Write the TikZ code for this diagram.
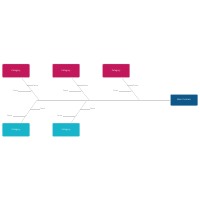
\documentclass[tikz,border=0pt]{standalone}
\usepackage{fontspec}
\setsansfont{Open Sans}
\usepackage{tikz}
\usetikzlibrary{positioning,calc}
\definecolor{crimson}{HTML}{C2185B}
\definecolor{lagoon}{HTML}{17B4CA}
\definecolor{deep}{HTML}{0D5789}
\definecolor{rib}{HTML}{D2D2D2}
\definecolor{note}{HTML}{8A8A8A}
\begin{document}
\begin{tikzpicture}[
    x=0.5mm, y=-0.5mm,
    node distance=11.4mm,
    cause/.style={fill=crimson, draw=crimson!55!white, line width=0.4pt, rounded corners=1pt, minimum width=13.5mm, minimum height=6.6mm, inner sep=0pt, text=white, font=\sffamily\fontsize{3}{3.5}\selectfont},
    causelow/.style={cause, fill=lagoon, draw=lagoon!55!white},
    effect/.style={cause, fill=deep, draw=deep!55!white, minimum height=5.5mm},
    bone/.style={draw=rib, line width=0.45pt},
    lbl/.style={font=\sffamily\fontsize{2.6}{3}\selectfont, text=note, inner sep=0.3pt},
    joint/.style={circle, fill=note!60, inner sep=0pt, minimum size=0.45mm}
]
\useasboundingbox (0,0) rectangle (200,200);

\node[cause] (cause1) at (16,70.7) {Category};
\node[cause, right=of cause1] (cause2) {Category};
\node[cause, right=of cause2] (cause3) {Category};
\node[causelow] (cause4) at (16,129.8) {Category};
\node[causelow, right=of cause4] (cause5) {Category};
\node[effect] (effect) at (184,100) {Main Problem};

% where the ribs meet the spine
\coordinate (s1) at ($(cause1)+(23,29.3)$);
\coordinate (s2) at ($(cause2)+(23,29.3)$);
\coordinate (s3) at ($(cause3)+(23,29.3)$);
\coordinate (s4) at ($(cause4)+(21,-29.8)$);
\coordinate (s5) at ($(cause5)+(21,-29.8)$);

\draw[bone] (s4) -- (effect);
\draw[bone] (cause1) -- (s1);
\draw[bone] (cause2) -- (s2);
\draw[bone] (cause3) -- (s3);
\draw[bone] (cause4) -- (s4);
\draw[bone] (cause5) -- (s5);

% upper ribs
\node[joint] (j1a) at ($(cause1)!0.505!(s1)$) {};
\node[lbl, right=2.2mm of j1a] (n1a) {Cause};
\draw[bone] (j1a) -- (n1a);
\node[joint] (j1b) at ($(cause1)!0.69!(s1)$) {};
\node[lbl, left=6.4mm of j1b] (n1b) {Cause};
\draw[bone] (j1b) -- (n1b);

\node[joint] (j2a) at ($(cause2)!0.505!(s2)$) {};
\node[lbl, right=2.2mm of j2a] (n2a) {Cause};
\draw[bone] (j2a) -- (n2a);
\node[joint] (j2b) at ($(cause2)!0.69!(s2)$) {};
\node[lbl, left=6.4mm of j2b] (n2b) {Cause};
\draw[bone] (j2b) -- (n2b);

\node[joint] (j3a) at ($(cause3)!0.505!(s3)$) {};
\node[lbl, right=2.2mm of j3a] (n3a) {Cause};
\draw[bone] (j3a) -- (n3a);
\node[joint] (j3b) at ($(cause3)!0.69!(s3)$) {};
\node[lbl, left=6.4mm of j3b] (n3b) {Cause};
\draw[bone] (j3b) -- (n3b);

% lower ribs
\node[joint] (j4a) at ($(s4)!0.312!(cause4)$) {};
\node[lbl, right=4.3mm of j4a] (n4a) {Cause};
\draw[bone] (j4a) -- (n4a);
\node[joint] (j4b) at ($(s4)!0.527!(cause4)$) {};
\node[lbl, left=6.4mm of j4b] (n4b) {Cause};
\draw[bone] (j4b) -- (n4b);

\node[joint] (j5a) at ($(s5)!0.312!(cause5)$) {};
\node[lbl, right=4.3mm of j5a] (n5a) {Cause};
\draw[bone] (j5a) -- (n5a);
\node[joint] (j5b) at ($(s5)!0.527!(cause5)$) {};
\node[lbl, left=6.4mm of j5b] (n5b) {Cause};
\draw[bone] (j5b) -- (n5b);

\end{tikzpicture}
\end{document}
